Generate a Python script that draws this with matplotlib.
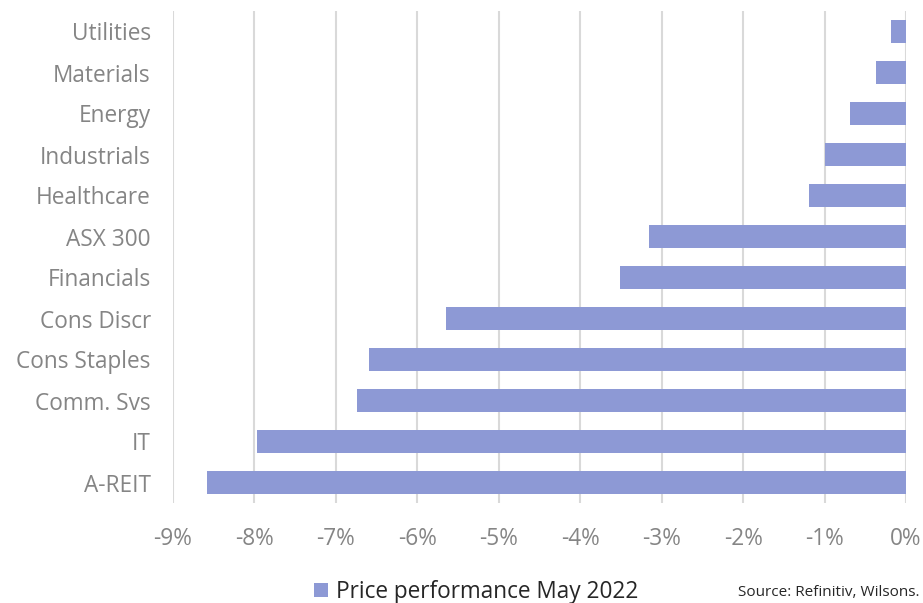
import matplotlib.pyplot as plt
import numpy as np

# data, top to bottom as shown
sectors = ['Utilities', 'Materials', 'Energy', 'Industrials', 'Healthcare', 'ASX 300',
           'Financials', 'Cons Discr', 'Cons Staples', 'Comm. Svs', 'IT', 'A-REIT']
perf = [-0.18, -0.37, -0.69, -0.99, -1.19, -3.15, -3.51, -5.65, -6.59, -6.74, -7.97, -8.58]
xticks = [-9, -8, -7, -6, -5, -4, -3, -2, -1, 0]

plt.rcParams['font.family'] = ['Open Sans', 'DejaVu Sans']

fig = plt.figure(figsize=(9.23, 6.03), dpi=100)
ax = fig.add_axes([173 / 923, 1 - 503 / 603, (906 - 173) / 923, (503 - 11) / 603])

y = np.arange(len(sectors))
ax.barh(y, perf, height=0.57, color='#8d99d5', zorder=3, label='Price performance May 2022')

ax.set_xlim(-9, 0)
ax.set_ylim(len(sectors) - 0.5, -0.5)
ax.set_xticks(xticks)
ax.set_xticklabels([f'{t}%' for t in xticks])
ax.set_yticks(y)
ax.set_yticklabels(sectors)

ax.grid(axis='x', color='#d9d9d9', linewidth=1.5, zorder=0)
ax.tick_params(axis='both', length=0, labelsize=16.3, labelcolor='#858585')
ax.tick_params(axis='x', pad=17)
ax.tick_params(axis='y', pad=16)
for s in ax.spines.values():
    s.set_visible(False)

fig.legend(loc='center', bbox_to_anchor=(476 / 923, 1 - 592 / 603), frameon=False,
           fontsize=16.3, handlelength=0.6, handleheight=0.6, handletextpad=0.35,
           labelcolor='#262626')
fig.text(919 / 923, 1 - 593 / 603, 'Source: Refinitiv, Wilsons.', ha='right', va='center',
         fontsize=11, color='#262626')

fig.savefig('out.png', dpi=100)
